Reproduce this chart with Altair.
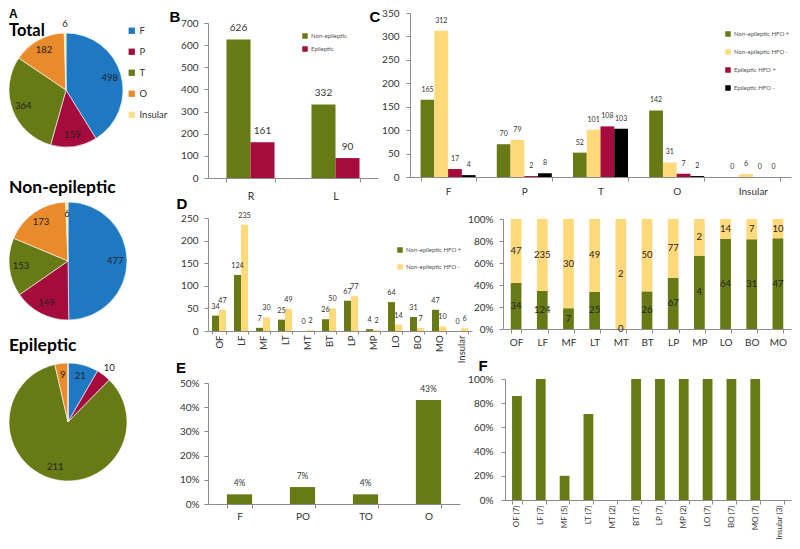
import json
import altair as alt
import pandas as pd

# ---------------- data ----------------
pie_regions = ["F", "P", "T", "O", "Insular"]
total_counts = [498, 159, 364, 182, 6]
nonep_counts = [477, 149, 153, 173, 6]
ep_counts = [21, 10, 211, 9, 0]

side_regions = ["R", "L"]
side_series = ["Non-epileptic", "Epileptic"]
side_nonep = [626, 332]
side_ep = [161, 90]

lobe_regions = ["F", "P", "T", "O", "Insular"]
lobe_series = ["Non-epileptic HFO +", "Non-epileptic HFO -", "Epileptic HFO +", "Epileptic HFO -"]
lobe_nonep_pos = [165, 70, 52, 142, 0]
lobe_nonep_neg = [312, 79, 101, 31, 6]
lobe_ep_pos = [17, 2, 108, 7, 0]
lobe_ep_neg = [4, 8, 103, 2, 0]

sub_regions = ["OF", "LF", "MF", "LT", "MT", "BT", "LP", "MP", "LO", "BO", "MO", "Insular"]
sub_series = ["Non-epileptic HFO +", "Non-epileptic HFO -"]
sub_pos = [34, 124, 7, 25, 0, 26, 67, 4, 64, 31, 47, 0]
sub_neg = [47, 235, 30, 49, 2, 50, 77, 2, 14, 7, 10, 6]

e_regions = ["F", "PO", "TO", "O"]
e_values = [0.04, 0.07, 0.04, 0.43]

f_regions = ["OF (7)", "LF (7)", "MF (5)", "LT (7)", "MT (2)", "BT (7)",
             "LP (7)", "MP (2)", "LO (7)", "BO (7)", "MO (7)", "Insular (3)"]
f_values = [0.86, 1.0, 0.2, 0.71, 0.0, 1.0, 1.0, 1.0, 1.0, 1.0, 1.0, 0.0]

# ---------------- style ----------------
PIE_COLORS = ["#1E78C2", "#A50B3C", "#687A15", "#E98A2B", "#FFE08A"]
GREEN, YELLOW, RED, BLACK = "#687A15", "#FFD97A", "#A50B3C", "#000000"
AX = "#8c8c8c"
FONT = "Lato"
LETTER_FONT = "Liberation Sans"
W, H = 784, 533   # whole drawing (chart px = page px - 8)
RIGHT = 783


def text_layer(txt, x, y, size, font=FONT, align="center", weight="bold"):
    return alt.Chart(pd.DataFrame({"t": [txt]})).mark_text(
        font=font, fontSize=size, fontWeight=weight, align=align, baseline="middle", color="black"
    ).encode(x=alt.value(x), y=alt.value(y), text="t:N")


def small_legend(x, y, row_pad, size=6, sym=30):
    return alt.Legend(orient="none", legendX=x, legendY=y, title=None, symbolType="square",
                      symbolSize=sym, symbolStrokeWidth=0, labelFont=FONT, labelFontSize=size,
                      labelColor="#555", rowPadding=row_pad, padding=0, labelOffset=3)


def x_axis(bottom, pad, angle=0, size=10, tick=4):
    return alt.Axis(title=None, orient="bottom", offset=bottom - H, labelAngle=angle, tickBand="extent",
                    labelPadding=pad, labelFontSize=size, tickSize=tick, domainColor=AX, tickColor=AX,
                    labelFont=FONT, labelColor="#333", grid=False)


def y_axis(left, values, pad, fmt=None, size=10):
    kw = dict(title=None, orient="left", offset=-left, values=values, labelPadding=pad, labelFontSize=size,
              tickSize=4, domainColor=AX, tickColor=AX, labelFont=FONT, labelColor="#333", grid=False)
    if fmt:
        kw["format"] = fmt
    return alt.Axis(**kw)


# ---------------- pies ----------------
def pie(counts, r, cx, cy, outside, legend=None):
    df = pd.DataFrame({"region": pie_regions, "n": counts, "ord": list(range(len(pie_regions)))})
    theta = alt.Theta("n:Q", stack=True)
    order = alt.Order("ord:Q")
    outs = json.dumps(outside)
    arcs = alt.Chart(df).mark_arc(outerRadius=r, stroke="white", strokeWidth=0.6).encode(
        theta=theta, order=order, x=alt.value(cx), y=alt.value(cy),
        color=alt.Color("region:N", sort=pie_regions,
                        scale=alt.Scale(domain=pie_regions, range=PIE_COLORS), legend=legend))
    lab_in = alt.Chart(df).mark_text(radius=0.8 * r, font=FONT, fontSize=9.5, color="#222").encode(
        theta=theta, order=order, detail="region:N", x=alt.value(cx), y=alt.value(cy),
        text=alt.condition(f"datum.n > 0 && indexof({outs}, datum.region) < 0",
                           alt.Text("n:Q"), alt.value("")))
    lab_out = alt.Chart(df).mark_text(radius=r + 9, font=FONT, fontSize=9.5, color="#222").encode(
        theta=theta, order=order, detail="region:N", x=alt.value(cx), y=alt.value(cy),
        text=alt.condition(f"datum.n > 0 && indexof({outs}, datum.region) >= 0",
                           alt.Text("n:Q"), alt.value("")))
    return alt.layer(arcs, lab_in, lab_out)


pie_total = pie(total_counts, 57, 58, 82, ["Insular"],
                legend=alt.Legend(orient="none", legendX=119, legendY=18, title=None,
                                  symbolType="square", symbolSize=40, symbolStrokeWidth=0,
                                  labelFont=FONT, labelFontSize=9.5, labelColor="#333",
                                  rowPadding=10, padding=0, labelOffset=3))
pie_nonep = pie(nonep_counts, 59, 60, 253, [])
pie_ep = pie(ep_counts, 59, 60, 414, ["P"])

# ---------------- B ----------------
df_b = pd.DataFrame({
    "region": side_regions * 2,
    "series": [side_series[0]] * 2 + [side_series[1]] * 2,
    "n": side_nonep + side_ep,
})
b_base = alt.Chart(df_b).encode(
    x=alt.X("region:N", sort=side_regions,
            scale=alt.Scale(range=[200, 370], paddingInner=0.435, paddingOuter=0.2175),
            axis=x_axis(170, 9, size=10.5)),
    xOffset=alt.XOffset("series:N", sort=side_series, scale=alt.Scale(paddingInner=0, paddingOuter=0)),
    y=alt.Y("n:Q", scale=alt.Scale(domain=[0, 700], nice=False, range=[170, 15]),
            axis=y_axis(200, list(range(0, 701, 100)), 6)),
)
chart_b = alt.layer(
    b_base.mark_bar().encode(color=alt.Color("series:N", sort=side_series,
                                             scale=alt.Scale(domain=side_series, range=[GREEN, RED]),
                                             legend=small_legend(294, 25, 7))),
    b_base.mark_text(dy=-11, font=FONT, fontSize=10, color="#333").encode(text="n:Q"),
)

# ---------------- C ----------------
c_rows = []
for i, reg in enumerate(lobe_regions):
    for s, vals in zip(lobe_series, [lobe_nonep_pos, lobe_nonep_neg, lobe_ep_pos, lobe_ep_neg]):
        c_rows.append({"region": reg, "series": s, "n": vals[i]})
df_c = pd.DataFrame(c_rows)
c_base = alt.Chart(df_c).encode(
    x=alt.X("region:N", sort=lobe_regions,
            scale=alt.Scale(range=[402, RIGHT], paddingInner=0.278, paddingOuter=0.139),
            axis=x_axis(169, 5)),
    xOffset=alt.XOffset("series:N", sort=lobe_series, scale=alt.Scale(paddingInner=0, paddingOuter=0)),
    y=alt.Y("n:Q", scale=alt.Scale(domain=[0, 350], nice=False, range=[169, 5]),
            axis=y_axis(402, list(range(0, 351, 50)), 7)),
)
chart_c = alt.layer(
    c_base.mark_bar().encode(color=alt.Color("series:N", sort=lobe_series,
                                             scale=alt.Scale(domain=lobe_series, range=[GREEN, YELLOW, RED, BLACK]),
                                             legend=small_legend(717, 23, 12))),
    c_base.mark_text(dy=-10, font=FONT, fontSize=7, color="#333").encode(text="n:Q"),
)

# ---------------- D left ----------------
d_rows = []
for i, reg in enumerate(sub_regions):
    d_rows.append({"region": reg, "series": sub_series[0], "n": sub_pos[i], "k": 0})
    d_rows.append({"region": reg, "series": sub_series[1], "n": sub_neg[i], "k": 1})
df_d = pd.DataFrame(d_rows)
dl_base = alt.Chart(df_d).encode(
    x=alt.X("region:N", sort=sub_regions,
            scale=alt.Scale(range=[200, 464], paddingInner=0.364, paddingOuter=0.182),
            axis=x_axis(323, 1, angle=270, size=9.5, tick=3)),
    xOffset=alt.XOffset("series:N", sort=sub_series, scale=alt.Scale(paddingInner=0, paddingOuter=0)),
    y=alt.Y("n:Q", scale=alt.Scale(domain=[0, 250], nice=False, range=[323, 210]),
            axis=y_axis(200, list(range(0, 251, 50)), 6)),
)
chart_dl = alt.layer(
    dl_base.mark_bar().encode(color=alt.Color("series:N", sort=sub_series,
                                              scale=alt.Scale(domain=sub_series, range=[GREEN, YELLOW]),
                                              legend=small_legend(389, 239, 11))),
    dl_base.mark_text(dy=-9, font=FONT, fontSize=7.2, color="#333").encode(text="n:Q"),
)

# ---------------- D right (100% stacked) ----------------
df_dr = df_d[df_d["region"] != "Insular"]
dr_base = alt.Chart(df_dr).transform_stack(
    stack="n", groupby=["region"], as_=["y0", "y1"], offset="normalize",
    sort=[alt.SortField("k", order="ascending")]
).transform_calculate(mid="(datum.y0 + datum.y1) / 2")
dr_x = alt.X("region:N", sort=sub_regions[:11],
             scale=alt.Scale(range=[495, RIGHT], paddingInner=0.59, paddingOuter=0.295),
             axis=x_axis(321, 4))
chart_dr = alt.layer(
    dr_base.mark_bar().encode(
        x=dr_x,
        y=alt.Y("y0:Q", scale=alt.Scale(domain=[0, 1], nice=False, range=[321, 211]),
                axis=y_axis(495, [0, 0.2, 0.4, 0.6, 0.8, 1.0], 6, fmt=".0%")),
        y2="y1:Q",
        color=alt.Color("series:N", sort=sub_series,
                        scale=alt.Scale(domain=sub_series, range=[GREEN, YELLOW]), legend=None)),
    dr_base.mark_text(font=FONT, fontSize=9.5, color="#222").encode(x=dr_x, y="mid:Q", text="n:Q"),
)

# ---------------- E ----------------
df_e = pd.DataFrame({"region": e_regions, "v": e_values})
e_base = alt.Chart(df_e).encode(
    x=alt.X("region:N", sort=e_regions,
            scale=alt.Scale(range=[200, 452], paddingInner=0.6, paddingOuter=0.3), axis=x_axis(496, 3)),
    y=alt.Y("v:Q", scale=alt.Scale(domain=[0, 0.5], nice=False, range=[496, 375]),
            axis=y_axis(200, [0, 0.1, 0.2, 0.3, 0.4, 0.5], 5, fmt=".0%")),
)
chart_e = alt.layer(
    e_base.mark_bar(color=GREEN),
    e_base.mark_text(dy=-11, font=FONT, fontSize=8.5, color="#333").encode(text=alt.Text("v:Q", format=".0%")),
)

# ---------------- F ----------------
df_f = pd.DataFrame({"region": f_regions, "v": f_values})
chart_f = alt.Chart(df_f).mark_bar(color=GREEN).encode(
    x=alt.X("region:N", sort=f_regions,
            scale=alt.Scale(range=[497, RIGHT], paddingInner=0.59, paddingOuter=0.295),
            axis=x_axis(492, 1, angle=270, size=8)),
    y=alt.Y("v:Q", scale=alt.Scale(domain=[0, 1], nice=False, range=[492, 371]),
            axis=y_axis(497, [0, 0.2, 0.4, 0.6, 0.8, 1.0], 8, fmt=".0%")),
)

# ---------------- titles / panel letters ----------------
texts = [
    text_layer("A", 1, 6, 12, font=LETTER_FONT, align="left"),
    text_layer("Total", 1, 23, 16.5, align="left"),
    text_layer("Non-epileptic", 1, 180, 17.5, align="left"),
    text_layer("Epileptic", 1, 338, 17.5, align="left"),
    text_layer("B", 167, 9, 15, font=LETTER_FONT),
    text_layer("C", 367, 9, 15, font=LETTER_FONT),
    text_layer("D", 174, 196, 15, font=LETTER_FONT),
    text_layer("E", 173, 360, 15, font=LETTER_FONT),
    text_layer("F", 475, 358, 15, font=LETTER_FONT),
]

chart = alt.layer(
    pie_total, pie_nonep, pie_ep, chart_b, chart_c, chart_dl, chart_dr, chart_e, chart_f, *texts
).resolve_scale(
    x="independent", y="independent", color="independent", theta="independent", xOffset="independent"
).resolve_axis(x="independent", y="independent").resolve_legend(color="independent").properties(
    width=W, height=H, padding=0, autosize=alt.AutoSizeParams(type="none")
).configure_view(stroke=None).configure_axis(grid=False)

chart.save("out.html", embed_options={"renderer": "svg", "actions": False})
